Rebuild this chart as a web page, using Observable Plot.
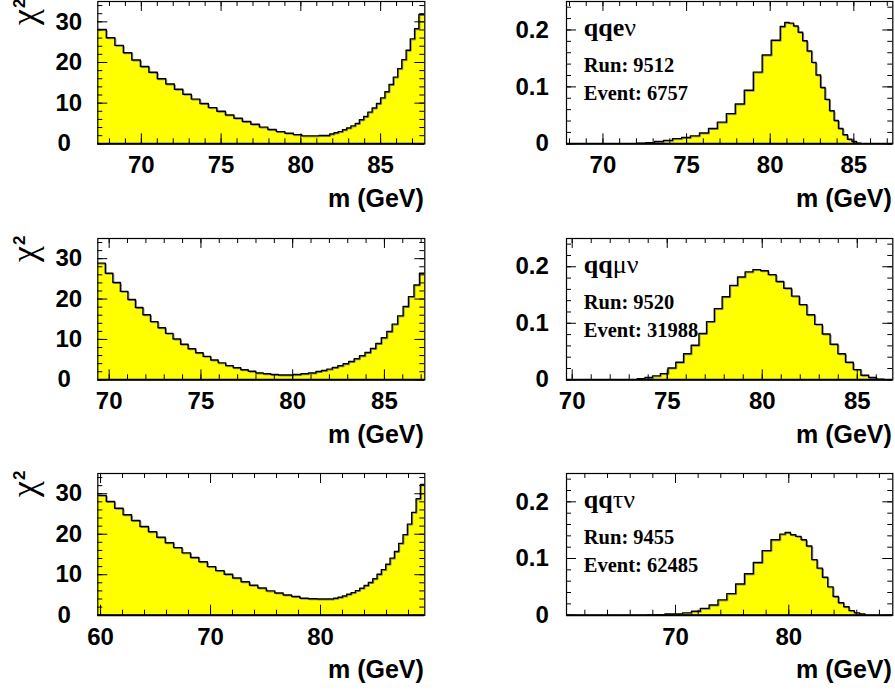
<!DOCTYPE html>
<html>
<head>
<meta charset="utf-8">
<script src="https://cdn.jsdelivr.net/npm/d3@7"></script>
<script src="https://cdn.jsdelivr.net/npm/@observablehq/plot@0.6"></script>
<style>
  html, body { margin: 0; padding: 0; background: #fff; overflow: hidden; }
  #page { position: relative; width: 895px; height: 690px; }
  #page svg { position: absolute; overflow: visible; }
</style>
</head>
<body>
<div id="page"></div>
<script>
// ---- chi-square scans versus fitted W mass (GeV), variable-width bins ----
// qqeν, Run 9512, Event 6757
const chiEdgesE = [67.27, 67.80, 68.34, 68.87, 69.40, 69.94, 70.47, 71.00, 71.53, 72.07, 72.60, 73.13, 73.67, 74.20, 74.73, 75.27, 75.80, 76.33, 76.86, 77.40, 77.93, 78.46, 79.00, 79.53, 80.06, 80.60, 81.13,
  81.81, 82.08, 82.34, 82.61, 82.87, 83.14, 83.41, 83.67, 83.94, 84.20, 84.47, 84.74, 85.00, 85.27, 85.53, 85.80, 86.07, 86.33, 86.60, 86.86, 87.13, 87.40, 87.80];
const chi2E = [28.1, 26.1, 24.2, 22.4, 20.6, 19.0, 17.6, 16.0, 14.7, 13.4, 12.2, 11.0, 9.9, 8.9, 8.0, 7.1, 6.3, 5.5, 4.8, 4.1, 3.5, 3.0, 2.6, 2.25, 1.95, 1.95, 2.05,
  2.4, 2.7, 3.0, 3.45, 3.9, 4.4, 5.0, 5.9, 6.7, 7.8, 8.8, 9.9, 11.3, 12.8, 14.6, 16.4, 18.5, 20.7, 23.0, 25.8, 28.3, 31.8];
// qqμν, Run 9520, Event 31988
const chiEdgesM = [69.38, 69.79, 70.20, 70.61, 71.02, 71.43, 71.84, 72.25, 72.66, 73.07, 73.48, 73.89, 74.30, 74.71, 75.12, 75.53, 75.94, 76.35, 76.76, 77.17, 77.58, 77.99, 78.40, 78.81, 79.22, 79.63, 80.04, 80.45, 80.86,
  81.27, 81.57, 81.86, 82.16, 82.46, 82.75, 83.05, 83.35, 83.64, 83.94, 84.24, 84.53, 84.83, 85.13, 85.42, 85.72, 86.02, 86.31, 86.61, 86.91, 87.20];
const chi2M = [28.9, 26.4, 24.1, 21.9, 19.9, 17.9, 16.1, 14.4, 12.9, 11.5, 10.1, 8.8, 7.7, 6.7, 5.8, 4.9, 4.2, 3.5, 3.0, 2.5, 2.1, 1.7, 1.5, 1.3, 1.2, 1.2, 1.3, 1.5, 1.7,
  2.06, 2.31, 2.64, 3.05, 3.47, 3.96, 4.54, 5.2, 5.94, 6.77, 7.76, 9.0, 10.4, 11.96, 13.78, 15.84, 18.15, 20.6, 23.5, 26.4];
// qqτν, Run 9455, Event 62485
const chiEdgesT = [59.75, 60.52, 61.28, 62.05, 62.81, 63.58, 64.35, 65.11, 65.88, 66.64, 67.41, 68.18, 68.94, 69.71, 70.47, 71.24, 72.01, 72.77, 73.54, 74.30, 75.07, 75.84, 76.60, 77.37, 78.13, 78.90, 79.67, 80.43,
  81.20, 81.59, 81.99, 82.38, 82.78, 83.17, 83.56, 83.96, 84.35, 84.75, 85.14, 85.53, 85.93, 86.32, 86.72, 87.11, 87.50, 87.90, 88.29, 88.69, 89.08, 89.47];
const chi2T = [29.6, 28.1, 26.4, 24.8, 23.4, 21.9, 20.6, 19.25, 17.9, 16.7, 15.4, 14.25, 13.2, 12.0, 11.0, 10.1, 9.2, 8.25, 7.4, 6.7, 6.0, 5.5, 5.0, 4.6, 4.2, 4.05, 4.0, 4.0,
  4.17, 4.42, 4.75, 5.17, 5.58, 6.08, 6.67, 7.33, 8.08, 9.0, 10.1, 11.25, 12.6, 14.1, 15.75, 17.75, 19.9, 22.5, 25.4, 28.75, 32.3];

// ---- mass probability distributions ----
const probEdgesE = [72.01, 72.55, 73.09, 73.62, 74.16, 74.70, 75.23, 75.77, 76.31, 76.84, 77.38, 77.91, 78.45, 78.99, 79.52, 80.06,
  80.60, 80.87, 81.14, 81.40, 81.67, 81.94, 82.21, 82.48, 82.74, 83.01, 83.28, 83.55, 83.82, 84.08, 84.35, 84.62, 84.89, 85.16, 85.42];
const probE = [0.001, 0.002, 0.004, 0.006, 0.009, 0.011, 0.014, 0.019, 0.027, 0.038, 0.053, 0.070, 0.094, 0.126, 0.156, 0.182,
  0.206, 0.213, 0.212, 0.207, 0.196, 0.181, 0.163, 0.143, 0.121, 0.099, 0.078, 0.058, 0.041, 0.027, 0.016, 0.008, 0.004, 0.001];
const probEdgesM = [73.42, 73.83, 74.23, 74.64, 75.04, 75.45, 75.86, 76.26, 76.67, 77.07, 77.48, 77.89, 78.29, 78.70, 79.10, 79.51, 79.92,
  80.32, 80.73, 81.13, 81.54, 81.95, 82.35, 82.76, 83.16, 83.57, 83.98, 84.38, 84.79, 85.19, 85.60, 86.01, 86.41];
const probM = [0.002, 0.004, 0.007, 0.011, 0.021, 0.031, 0.046, 0.061, 0.082, 0.103, 0.126, 0.147, 0.167, 0.182, 0.191, 0.195,
  0.193, 0.186, 0.174, 0.162, 0.148, 0.133, 0.115, 0.098, 0.081, 0.063, 0.046, 0.031, 0.018, 0.008, 0.004, 0.001];
const probEdgesT = [67.51, 68.29, 69.07, 69.85, 70.63, 71.41, 72.19, 72.97, 73.75, 74.53, 75.31, 76.09, 76.87, 77.65, 78.43, 79.21,
  79.68, 80.15, 80.62, 81.09, 81.56, 82.03, 82.50, 82.97, 83.44, 83.91, 84.38, 84.85, 85.32, 85.79, 86.26, 86.73];
const probT = [0.0005, 0.001, 0.002, 0.002, 0.004, 0.007, 0.012, 0.018, 0.027, 0.038, 0.055, 0.073, 0.093, 0.114, 0.133,
  0.143, 0.146, 0.142, 0.139, 0.133, 0.122, 0.098, 0.083, 0.067, 0.050, 0.033, 0.022, 0.015, 0.008, 0.004, 0.002];

// ---- axis tick labels and panel annotations ----
const massTicksNarrow = [70, 75, 80, 85];
const massTicksWide = [60, 70, 80];
const massTicksTau = [70, 80];
const chiTicks = [0, 10, 20, 30];
const probTicks = [0, 0.1, 0.2];
const massTitle = "m (GeV)";
const chiTitle = "χ2";
const channels = ["qqeν", "qqμν", "qqτν"];
const runs = ["Run: 9512", "Run: 9520", "Run: 9455"];
const events = ["Event: 6757", "Event: 31988", "Event: 62485"];

// ---- layout ----
const SANS = "'Liberation Sans', Arial, Helvetica, sans-serif";
const SERIF = "'Liberation Serif', 'Times New Roman', Times, serif";
const FILL = "#ffff00";
const rows = [{top: 1, h: 142.3}, {top: 237.7, h: 141.3}, {top: 473.3, h: 141.7}];
const cols = [{left: 0, width: 447, ml: 97.3, mr: 22.7}, {left: 447, width: 448, ml: 119, mr: 2.7}];
const MT = 10, MB = 72;

function histPoints(edges, vals, closed) {
  const pts = [];
  if (closed) pts.push({m: edges[0], v: 0});
  vals.forEach((v, i) => pts.push({m: edges[i], v}));
  pts.push({m: edges[vals.length], v: vals[vals.length - 1]});
  if (closed) pts.push({m: edges[vals.length], v: 0});
  return pts;
}

function stepRange(lo, hi, step) {
  const out = [];
  for (let k = Math.ceil(lo / step - 1e-9); k * step <= hi + 1e-9; k++) out.push(+(k * step).toFixed(6));
  return out;
}

function panel(o) {
  const r = rows[o.row], c = cols[o.col];
  const frameW = c.width - c.ml - c.mr, frameH = r.h;
  const inX = (d) => d >= o.xDomain[0] && d <= o.xDomain[1];
  const xMinor = stepRange(o.xDomain[0], o.xDomain[1], o.xMinor);
  const xMajor = o.xTicks.filter(inX);
  const yMinor = stepRange(o.yDomain[0], o.yDomain[1], o.yMinor);
  const yMajor = o.yTicks;
  const pts = histPoints(o.edges, o.vals, o.closed);
  const tick = {stroke: "#000", strokeWidth: 1};
  const label = {fontFamily: SANS, fontWeight: "bold", fontSize: 24, fill: "#000"};
  const marks = [
    Plot.areaY(pts, {x: "m", y: "v", curve: "step-after", fill: FILL, clip: true}),
    Plot.lineY(pts, {x: "m", y: "v", curve: "step-after", stroke: "#8a8a8a", strokeWidth: 1, dx: 1, dy: 1, clip: true}),
    Plot.lineY(pts, {x: "m", y: "v", curve: "step-after", stroke: "#000", strokeWidth: 1.4, clip: true}),
    // inward ticks on all four sides
    Plot.ruleX(xMinor, {...tick, insetTop: frameH - 5}),
    Plot.ruleX(xMinor, {...tick, insetBottom: frameH - 5}),
    Plot.ruleX(xMajor, {...tick, insetTop: frameH - 10}),
    Plot.ruleX(xMajor, {...tick, insetBottom: frameH - 10}),
    Plot.ruleY(yMinor, {...tick, insetRight: frameW - 5}),
    Plot.ruleY(yMinor, {...tick, insetLeft: frameW - 5}),
    Plot.ruleY(yMajor, {...tick, insetRight: frameW - 10}),
    Plot.ruleY(yMajor, {...tick, insetLeft: frameW - 10}),
    Plot.frame({stroke: "#000", strokeWidth: 1.2}),
    Plot.ruleY([o.yDomain[0]], {stroke: "#000", strokeWidth: 2}),
    // tick labels and axis title
    Plot.text(xMajor, {x: (d) => d, text: (d) => String(d), frameAnchor: "bottom", lineAnchor: "middle", dy: 22, ...label}),
    Plot.text([massTitle], {frameAnchor: "bottom-right", textAnchor: "end", lineAnchor: "middle", dy: 55, dx: -1, ...label, fontSize: 25}),
    Plot.text(yMajor.filter((d) => d !== 0), {y: (d) => d, text: (d) => String(d), frameAnchor: "left", textAnchor: "end", lineAnchor: "middle", dx: o.yLabelDx, ...label}),
    Plot.text([0], {y: (d) => d, text: (d) => String(d), frameAnchor: "left", textAnchor: "end", lineAnchor: "middle", dx: o.yZeroDx, ...label})
  ];
  if (o.chi) {
    marks.push(Plot.text([chiTitle], {frameAnchor: "top-left", rotate: -90, textAnchor: "end", lineAnchor: "bottom", dx: -62, dy: -3, fontFamily: SERIF, fontSize: 36, fill: "#000"}));
  }
  if (o.note != null) {
    const serif = {frameAnchor: "top-left", textAnchor: "start", lineAnchor: "bottom", dx: 17.3, fontFamily: SERIF, fontWeight: "bold", fill: "#000"};
    marks.push(
      Plot.text([channels[o.note]], {...serif, dy: 35, fontSize: 26}),
      Plot.text([runs[o.note]], {...serif, dy: 71, fontSize: 20.5}),
      Plot.text([events[o.note]], {...serif, dy: 99, fontSize: 20.5})
    );
  }
  const svg = Plot.plot({
    width: c.width,
    height: MT + frameH + MB,
    marginLeft: c.ml, marginRight: c.mr, marginTop: MT, marginBottom: MB,
    x: {type: "linear", domain: o.xDomain, axis: null},
    y: {type: "linear", domain: o.yDomain, axis: null},
    marks
  });
  svg.style.left = c.left + "px";
  svg.style.top = (r.top - MT) + "px";
  svg.style.maxWidth = "none";
  // Greek letters are set in a light upright face, as in the physics labels
  svg.querySelectorAll("text").forEach((t) => {
    const s = t.textContent;
    if (s === chiTitle) {
      t.textContent = "";
      const a = document.createElementNS("http://www.w3.org/2000/svg", "tspan");
      a.textContent = "χ";
      t.appendChild(a);
      const b = document.createElementNS("http://www.w3.org/2000/svg", "tspan");
      b.textContent = "2";
      b.setAttribute("font-family", SANS);
      b.setAttribute("font-weight", "bold");
      b.setAttribute("font-size", "17");
      b.setAttribute("dy", "-11");
      b.setAttribute("dx", "1");
      t.appendChild(b);
    } else if (channels.includes(s)) {
      const m = s.match(/^([^\u0370-\u03ff]*)([\u0370-\u03ff].*)$/);
      if (m) {
        t.textContent = "";
        const a = document.createElementNS("http://www.w3.org/2000/svg", "tspan");
        a.textContent = m[1];
        t.appendChild(a);
        const b = document.createElementNS("http://www.w3.org/2000/svg", "tspan");
        b.textContent = m[2];
        b.setAttribute("font-weight", "normal");
        t.appendChild(b);
      }
    }
  });
  document.getElementById("page").appendChild(svg);
}

const leftAxes = {yDomain: [0, 35], yTicks: chiTicks, yMinor: 2, yLabelDx: -15.6, yZeroDx: -27, chi: true, closed: false};
const rightAxes = {yDomain: [0, 0.25], yTicks: probTicks, yMinor: 0.02, yLabelDx: -17.7, yZeroDx: -17.7, chi: false, closed: true};

panel({row: 0, col: 0, ...leftAxes, edges: chiEdgesE, vals: chi2E, xDomain: [67.27, 87.77], xTicks: massTicksNarrow, xMinor: 1});
panel({row: 0, col: 1, ...rightAxes, edges: probEdgesE, vals: probE, xDomain: [67.82, 87.33], xTicks: massTicksNarrow, xMinor: 1, note: 0});
panel({row: 1, col: 0, ...leftAxes, edges: chiEdgesM, vals: chi2M, xDomain: [69.38, 87.2], xTicks: massTicksNarrow, xMinor: 1});
panel({row: 1, col: 1, ...rightAxes, edges: probEdgesM, vals: probM, xDomain: [69.7, 86.87], xTicks: massTicksNarrow, xMinor: 1, note: 1});
panel({row: 2, col: 0, ...leftAxes, edges: chiEdgesT, vals: chi2T, xDomain: [59.75, 89.48], xTicks: massTicksWide, xMinor: 2});
panel({row: 2, col: 1, ...rightAxes, edges: probEdgesT, vals: probT, xDomain: [60.38, 89.18], xTicks: massTicksTau, xMinor: 2, note: 2});
</script>
</body>
</html>
